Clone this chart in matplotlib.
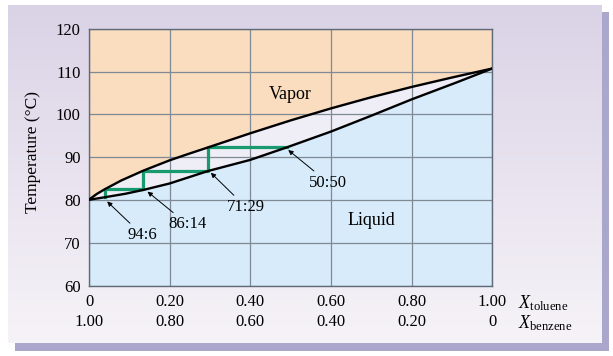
import matplotlib

matplotlib.use("Agg")

import matplotlib.pyplot as plt
import numpy as np
from matplotlib.patches import Rectangle

plt.rcParams["font.family"] = ["Liberation Serif", "DejaVu Serif"]
plt.rcParams["mathtext.fontset"] = "custom"
plt.rcParams["mathtext.rm"] = "Liberation Serif"
plt.rcParams["mathtext.it"] = "Liberation Serif:italic"

# vapor (dew) curve and liquid (bubble) curve
vapor_x = [0.0, 0.011, 0.02, 0.04, 0.08, 0.135, 0.20, 0.25, 0.295, 0.40, 0.50, 0.60, 0.70, 0.80, 0.90, 1.00]
vapor_t = [80.1, 80.9, 81.5, 82.6, 84.6, 86.9, 89.3, 90.9, 92.3, 95.6, 98.6, 101.4, 104.0, 106.4, 108.6, 110.7]
liquid_x = [0.0, 0.04, 0.09, 0.135, 0.20, 0.295, 0.40, 0.49, 0.60, 0.70, 0.80, 0.91, 1.00]
liquid_t = [80.1, 80.7, 81.5, 82.4, 83.9, 86.8, 89.4, 92.3, 96.0, 99.7, 103.5, 107.4, 110.7]

# distillation steps
step_x = [0.04, 0.04, 0.135, 0.135, 0.295, 0.295, 0.49]
step_t = [80.7, 82.6, 82.6, 86.9, 86.9, 92.3, 92.3]

# ratio labels: text, point on curve, label position
ratio_labels = ["94:6", "86:14", "71:29", "50:50"]
ratio_tips = [(0.045, 79.7), (0.145, 82.0), (0.302, 86.4), (0.494, 91.7)]
ratio_text = [(0.132, 71.9), (0.244, 74.4), (0.389, 78.4), (0.593, 84.1)]

x_ticks = [0.0, 0.2, 0.4, 0.6, 0.8, 1.0]
toluene_labels = ["0", "0.20", "0.40", "0.60", "0.80", "1.00"]
benzene_labels = ["1.00", "0.80", "0.60", "0.40", "0.20", "0"]
y_ticks = [60, 70, 80, 90, 100, 110, 120]

W, H = 613, 356
fig = plt.figure(figsize=(W / 100, H / 100), dpi=100)
fig.patch.set_facecolor("white")


def fbox(x0, y0, x1, y1):
    return (x0 / W, 1 - y1 / H, (x1 - x0) / W, (y1 - y0) / H)


# shadow + gradient panel
sx, sy, sw, sh = fbox(15, 12, 609, 351)
fig.patches.append(Rectangle((sx, sy), sw, sh, transform=fig.transFigure,
                             facecolor="#a9a8cc", edgecolor="none", zorder=-2))
bg = fig.add_axes(fbox(8, 5, 602, 343), zorder=-1)
grad = np.linspace(0, 1, 256).reshape(-1, 1)
top = np.array([0.855, 0.827, 0.902])
bot = np.array([0.965, 0.953, 0.972])
img = top + (bot - top) * grad[:, :, None]
bg.imshow(img, aspect="auto", extent=(0, 1, 0, 1))
bg.set_axis_off()

ax = fig.add_axes(fbox(89, 28.6, 492.3, 286), zorder=1)
ax.set_xlim(0, 1)
ax.set_ylim(60, 120)

ax.fill_between(vapor_x, vapor_t, 120, color="#fadcbf", lw=0, zorder=1)
ax.fill_between(liquid_x, 60, liquid_t, color="#d8ebfa", lw=0, zorder=1)
ax.fill(vapor_x + liquid_x[::-1], vapor_t + liquid_t[::-1], color="#efedf6", lw=0, zorder=1)

ax.set_axisbelow("line")
ax.grid(True, color="#7f8a95", lw=0.9)
for s in ax.spines.values():
    s.set_color("#5f6b78")
    s.set_linewidth(1.0)

ax.plot(vapor_x, vapor_t, color="black", lw=1.7, zorder=3, solid_capstyle="round")
ax.plot(liquid_x, liquid_t, color="black", lw=1.7, zorder=3, solid_capstyle="round")
ax.plot(step_x, step_t, color="#179a6d", lw=2.3, zorder=2.8)

for lab, tip, txt in zip(ratio_labels, ratio_tips, ratio_text):
    ax.annotate(lab, xy=tip, xytext=txt, fontsize=12, ha="center", va="center", zorder=4,
                arrowprops=dict(arrowstyle="-|>", color="black", lw=0.7,
                                mutation_scale=7, shrinkA=1, shrinkB=0))

ax.text(0.498, 104.7, "Vapor", fontsize=13, ha="center", va="center", zorder=4)
ax.text(0.699, 75.2, "Liquid", fontsize=13, ha="center", va="center", zorder=4)

ax.set_yticks(y_ticks)
ax.set_yticklabels([str(v) for v in y_ticks], fontsize=12)
ax.set_xticks(x_ticks)
ax.set_xticklabels([f"{a}\n{b}" for a, b in zip(toluene_labels, benzene_labels)],
                   fontsize=12, linespacing=1.3)
ax.tick_params(axis="both", length=0)
ax.tick_params(axis="y", pad=6)
ax.tick_params(axis="x", pad=6)

ax.set_ylabel("Temperature (°C)", fontsize=12.5)
ax.yaxis.set_label_coords(-48 / 403.3, 0.52)

fig.text(518 / W, 1 - 303 / H, r"$X_{\mathrm{toluene}}$", fontsize=13, ha="left", va="center")
fig.text(518 / W, 1 - 323 / H, r"$X_{\mathrm{benzene}}$", fontsize=13, ha="left", va="center")

fig.savefig("out.png", dpi=100, facecolor=fig.get_facecolor())
